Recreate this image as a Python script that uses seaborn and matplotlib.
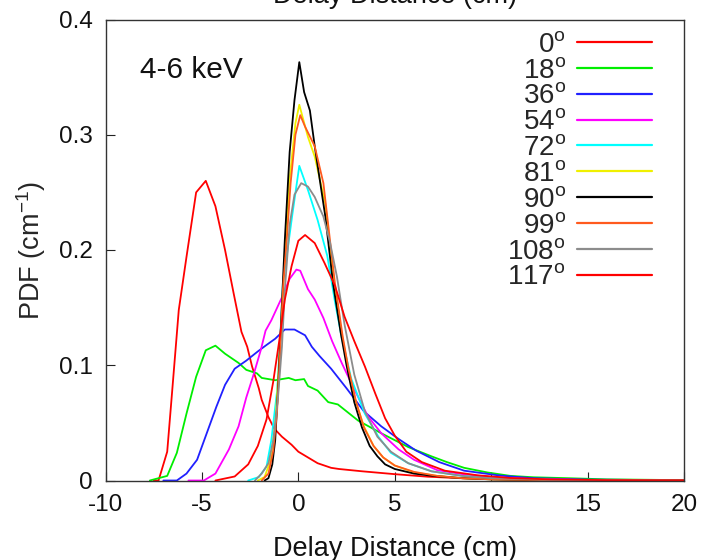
import matplotlib
matplotlib.use("Agg")
import matplotlib.pyplot as plt
import seaborn as sns
import pandas as pd

# ---------------- data ----------------
angles = ["0", "18", "36", "54", "72", "81", "90", "99", "108", "117"]
colors = ["#ff0000", "#00ee00", "#2020ff", "#ff00ff", "#00ffff",
          "#f0f000", "#000000", "#ff5a1e", "#8c8c8c", "#ff0000"]

x_0 = [-7.5, -7.25, -6.8, -6.55, -6.2, -5.8, -5.3, -4.8, -4.3, -3.8, -3.35, -2.95, -2.65,
       -2.4, -2.05, -1.9, -1.55, -1.25, -0.85, -0.35, 0.0, 0.5, 1.0, 1.7, 2.1, 3.3, 5.0,
       6.7, 8.4, 10, 12, 15, 20]
y_0 = [0, 0.0, 0.025, 0.076, 0.148, 0.194, 0.250, 0.260, 0.238, 0.200, 0.162, 0.129, 0.116,
       0.099, 0.080, 0.070, 0.055, 0.045, 0.038, 0.031, 0.025, 0.020, 0.015, 0.011, 0.010,
       0.008, 0.0055, 0.0033, 0.002, 0.0012, 0.0006, 0.0002, 0.0]

x_18 = [-7.7, -6.8, -6.3, -5.8, -5.3, -4.8, -4.3, -3.8, -3.1, -2.7, -2.15, -1.9, -1.2, -0.5,
        -0.15, 0.3, 0.5, 1.0, 1.55, 2.05, 3.1, 4.3, 5.7, 6.9, 7.7, 8.6, 9.8, 11.0, 12.2, 14.0,
        16, 20]
y_18 = [0, 0.004, 0.024, 0.058, 0.090, 0.113, 0.117, 0.110, 0.102, 0.096, 0.093, 0.089, 0.087,
        0.089, 0.087, 0.088, 0.082, 0.078, 0.068, 0.066, 0.052, 0.041, 0.029, 0.021, 0.016,
        0.011, 0.007, 0.004, 0.0028, 0.002, 0.001, 0.0003]

x_36 = [-7.0, -6.3, -5.8, -5.25, -4.75, -4.25, -3.8, -3.3, -2.7, -2.1, -1.7, -1.2, -0.7, -0.2,
        0.35, 0.7, 1.1, 1.7, 2.5, 3.4, 4.3, 5.2, 6.1, 7.3, 8.6, 10.5, 12.2, 15, 20]
y_36 = [0, 0.0, 0.006, 0.018, 0.041, 0.064, 0.083, 0.097, 0.104, 0.112, 0.117, 0.123, 0.131,
        0.131, 0.126, 0.116, 0.108, 0.097, 0.080, 0.060, 0.047, 0.036, 0.026, 0.016, 0.0085,
        0.0042, 0.002, 0.0008, 0.0002]

x_54 = [-5.7, -4.9, -4.3, -3.6, -3.1, -2.7, -2.3, -1.95, -1.7, -1.4, -0.85, -0.45, -0.1, 0.1,
        0.5, 0.85, 1.3, 1.75, 2.25, 2.9, 3.6, 4.3, 5.2, 6.0, 7.2, 8.5, 10, 12, 15, 20]
y_54 = [0, 0, 0.006, 0.027, 0.047, 0.072, 0.093, 0.113, 0.130, 0.139, 0.159, 0.175, 0.183,
        0.182, 0.166, 0.157, 0.141, 0.121, 0.102, 0.079, 0.056, 0.041, 0.027, 0.018, 0.009,
        0.0055, 0.003, 0.0013, 0.0005, 0.0001]

x_72 = [-2.6, -2.05, -1.65, -1.4, -1.1, -0.95, -0.8, -0.6, -0.3, 0.05, 0.5, 1.0, 1.5, 1.9,
        2.25, 2.75, 3.45, 4.15, 4.8, 5.7, 6.9, 8.5, 10, 13, 20]
y_72 = [0, 0.003, 0.012, 0.035, 0.078, 0.120, 0.172, 0.195, 0.232, 0.273, 0.252, 0.226, 0.195,
        0.155, 0.124, 0.088, 0.058, 0.038, 0.024, 0.015, 0.008, 0.004, 0.002, 0.0006, 0.0]

x_81 = [-2.1, -1.75, -1.45, -1.2, -1.05, -0.85, -0.7, -0.45, -0.15, 0.05, 0.5, 0.85, 1.4, 1.8,
        2.2, 2.55, 2.95, 3.4, 3.9, 4.4, 5.0, 6.0, 7.2, 8.5, 10, 13, 20]
y_81 = [0, 0.003, 0.017, 0.048, 0.088, 0.145, 0.198, 0.262, 0.310, 0.326, 0.298, 0.281, 0.240,
        0.178, 0.132, 0.100, 0.070, 0.047, 0.030, 0.020, 0.013, 0.007, 0.004, 0.002, 0.001,
        0.0003, 0.0]

x_90 = [-1.75, -1.55, -1.35, -1.2, -1.05, -0.9, -0.7, -0.45, -0.2, 0.05, 0.3, 0.6, 0.85, 1.4,
        1.8, 2.2, 2.5, 2.9, 3.3, 3.7, 4.1, 4.5, 5.0, 6.0, 7.0, 8.5, 10, 13, 20]
y_90 = [0, 0.002, 0.014, 0.035, 0.080, 0.135, 0.209, 0.285, 0.330, 0.363, 0.337, 0.321, 0.290,
        0.229, 0.171, 0.128, 0.100, 0.068, 0.046, 0.030, 0.021, 0.014, 0.010, 0.006, 0.004,
        0.002, 0.001, 0.0003, 0.0]

x_99 = [-1.9, -1.55, -1.3, -1.1, -0.95, -0.8, -0.6, -0.4, -0.15, 0.1, 0.35, 0.85, 1.3, 1.9,
        2.3, 2.6, 3.0, 3.4, 3.9, 4.4, 5.0, 6.0, 7.2, 8.5, 10, 13, 20]
y_99 = [0, 0.006, 0.026, 0.061, 0.110, 0.166, 0.209, 0.258, 0.300, 0.317, 0.307, 0.290, 0.258,
        0.171, 0.125, 0.097, 0.068, 0.046, 0.030, 0.020, 0.013, 0.0075, 0.004, 0.002, 0.001,
        0.0003, 0.0]

x_108 = [-2.25, -1.9, -1.55, -1.3, -1.05, -0.85, -0.7, -0.6, -0.45, -0.2, 0.15, 0.5, 0.85, 1.3,
         1.65, 2.0, 2.4, 2.9, 3.45, 4.1, 4.8, 5.7, 6.9, 8.5, 10, 13, 20]
y_108 = [0, 0.006, 0.015, 0.035, 0.073, 0.116, 0.165, 0.188, 0.222, 0.248, 0.258, 0.255, 0.246,
         0.229, 0.206, 0.177, 0.135, 0.092, 0.060, 0.038, 0.025, 0.015, 0.008, 0.004, 0.002,
         0.0007, 0.0]

x_117 = [-4.3, -3.3, -2.6, -2.1, -1.65, -1.3, -1.0, -0.7, -0.35, 0.0, 0.35, 0.85, 1.35, 1.9,
         2.4, 2.9, 3.45, 4.0, 4.5, 5.0, 5.6, 6.4, 7.6, 9.3, 11, 13, 16, 20]
y_117 = [0, 0.0035, 0.014, 0.030, 0.053, 0.086, 0.120, 0.157, 0.186, 0.208, 0.213, 0.206, 0.189,
         0.169, 0.142, 0.121, 0.099, 0.075, 0.054, 0.039, 0.025, 0.016, 0.0085, 0.0045, 0.0022,
         0.001, 0.0003, 0.0001]

xs = [x_0, x_18, x_36, x_54, x_72, x_81, x_90, x_99, x_108, x_117]
ys = [y_0, y_18, y_36, y_54, y_72, y_81, y_90, y_99, y_108, y_117]

xticks = [-10, -5, 0, 5, 10, 15, 20]
xtick_labels = ["-10", "-5", "0", "5", "10", "15", "20"]
yticks = [0, 0.1, 0.2, 0.3, 0.4]
ytick_labels = ["0", "0.1", "0.2", "0.3", "0.4"]

# ---------------- build table ----------------
labels = [r"$\mathregular{%s^o}$" % a for a in angles]
rows = []
for lab, xx, yy in zip(labels, xs, ys):
    for a, b in zip(xx, yy):
        rows.append({"x": a, "pdf": b, "angle": lab})
df = pd.DataFrame(rows)

# ---------------- style ----------------
sns.set_theme(style="white")
plt.rcParams["font.family"] = ["Liberation Sans", "DejaVu Sans"]
plt.rcParams["mathtext.fontset"] = "custom"
plt.rcParams["mathtext.rm"] = "Liberation Sans"
plt.rcParams["mathtext.it"] = "Liberation Sans:italic"
plt.rcParams["axes.unicode_minus"] = False

fig = plt.figure(figsize=(7.02, 5.6), dpi=100)
L, R, T, B = 105.5, 684.0, 19.5, 480.5
ax = fig.add_axes([L / 702, 1 - B / 560, (R - L) / 702, (B - T) / 560])

sns.lineplot(data=df, x="x", y="pdf", hue="angle", hue_order=labels,
             palette=dict(zip(labels, colors)), estimator=None, sort=False,
             linewidth=1.3, ax=ax)

ax.set_xlim(-10, 20)
ax.set_ylim(0, 0.4)
ax.set_xticks(xticks)
ax.set_xticklabels(xtick_labels)
ax.set_yticks(yticks)
ax.set_yticklabels(ytick_labels)
ax.tick_params(axis="both", direction="in", length=6.5, width=0.8, color="#222222",
               labelsize=17.5, colors="#111111", bottom=True, left=True, top=False, right=False)
ax.tick_params(axis="x", pad=10)
ax.tick_params(axis="y", pad=9)
for s in ax.spines.values():
    s.set_linewidth(1.0)
    s.set_color("#333333")
ax.set_xlabel("")
ax.set_ylabel(r"PDF (cm$^{\mathregular{-1}}$)", fontsize=19.5, labelpad=8)

ax.text(-8.2, 0.356, "4-6 keV", fontsize=21.5, va="center", ha="left", color="#111111")

fig.text(395 / 702, 1 - 3 / 560, "Delay Distance (cm)", ha="center", va="baseline",
         fontsize=19.5, color="#111111")
fig.text(395 / 702, 1 - 556 / 560, "Delay Distance (cm)", ha="center", va="baseline",
         fontsize=19.5, color="#111111")

sns.move_legend(ax, "upper right", bbox_to_anchor=((652 - L) / (R - L), 0.9735),
                title=None, frameon=False, markerfirst=False, fontsize=20,
                handlelength=2.7, handletextpad=0.4, labelspacing=-0.005,
                borderpad=0, borderaxespad=0)
leg = ax.get_legend()
for ln in leg.get_lines():
    ln.set_linewidth(1.6)

fig.savefig("out.png", dpi=100)
